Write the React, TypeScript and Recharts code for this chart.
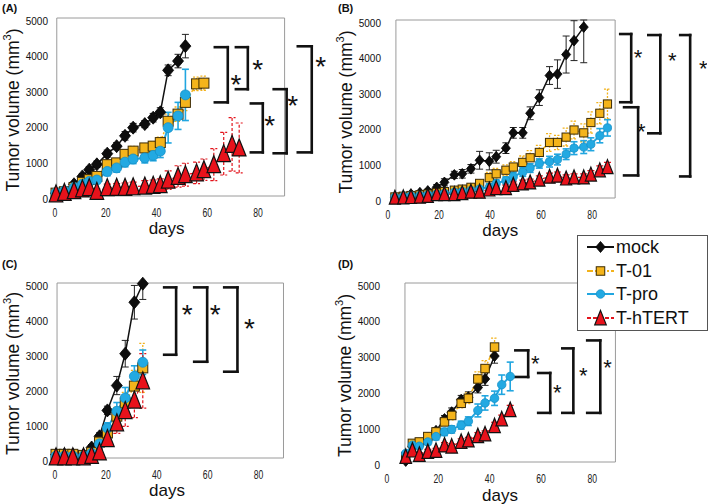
import React from 'react';
import { LineChart, Line, XAxis, YAxis, ErrorBar, ReferenceArea, ReferenceLine, ReferenceDot } from 'recharts';

const FONT = '"Liberation Sans", Arial, Helvetica, sans-serif';

const X_TICKS = [0, 20, 40, 60, 80];
const Y_TICKS = [0, 1000, 2000, 3000, 4000, 5000];
const SERIES = ['mock', 'T-01', 'T-pro', 'T-hTERT'];
const Y_TITLE = 'Tumor volume (mm';
const Y_TITLE_SUP = '3';
const X_TITLE = 'days';
const STAR = '*';
const PANEL_LABELS = ['(A)', '(B)', '(C)', '(D)'];

type Err = number | [number, number];

// ---------- Panel A ----------
const A_DAYS = [0.4, 3.7, 7.5, 10.8, 13.5, 16.5, 20.6, 24.3, 27.6, 30.8, 35.4, 38.7, 41.5, 44.6, 48.5, 51.4, 55.8, 58.7, 62.6, 66.5, 69.8, 72.6];
const A_MOCK = [80, 100, 330, 550, 740, 890, 1190, 1400, 1690, 1920, 2020, 2200, 2350, 3530, 3790, 4210];
const A_MOCK_ERR: Err[] = [20, 30, 60, 80, 80, 90, 100, 100, 120, 120, 100, 120, 130, 150, 190, 330];
const A_T01 = [80, 120, 240, 380, 460, 550, 880, 930, 1170, 1260, 1350, 1400, 1500, 2100, 2300, 2630, 3150, 3170];
const A_T01_ERR: Err[] = [30, 40, 60, 70, 80, 90, 120, 100, 120, 130, 120, 130, 150, 200, 200, 230, 190, 200];
const A_TPRO = [90, 140, 240, 330, 410, 450, 690, 790, 950, 1040, 1070, 1140, 1260, 1920, 2250, 2840];
const A_TPRO_ERR: Err[] = [30, 40, 60, 80, 90, 100, 120, 120, 130, 130, 140, 150, 180, 430, 380, 720];
const A_HTERT = [60, 100, 150, 200, 235, 130, 235, 245, 245, 260, 280, 300, 320, 445, 550, 600, 650, 740, 880, 1190, 1450, 1350];
const A_HTERT_ERR: Err[] = [40, 50, 60, 80, 80, 70, 100, 100, 120, 130, 150, 150, 160, 260, 300, 320, 300, 300, 450, 600, 750, 700];
const A_BRACKETS = [[63, 68.1, 4180, 2630], [71.3, 76, 4180, 3000], [77.2, 81.9, 2600, 1225], [86.2, 91.3, 3000, 1200], [95.7, 101.2, 4205, 1225]];
const A_STARS = [[71.3, 3333], [79.9, 3754], [84.6, 2181], [93.7, 2743], [104.7, 3839]];

// ---------- Panel B ----------
const B_DAYS = [2.7, 6.0, 9.0, 12.5, 15.6, 19.1, 22.1, 26.0, 29.1, 32.5, 35.9, 39.7, 42.4, 46.2, 49.1, 52.8, 55.7, 59.3, 63.3, 66.4, 69.8, 72.9, 76.7, 79.5, 83.0, 86.0];
const B_MOCK = [20, 50, 110, 150, 200, 300, 440, 650, 680, 820, 1060, 1030, 1160, 1400, 1830, 1830, 2380, 2820, 3440, 3480, 4030, 4420, 4800];
const B_MOCK_ERR: Err[] = [20, 30, 40, 50, 50, 80, 100, 100, 120, 120, 250, 240, 180, 150, 150, 150, 180, 220, 250, 400, 520, 560, [1000, 200]];
const B_T01 = [30, 50, 70, 90, 110, 150, 180, 220, 250, 300, 410, 570, 680, 780, 870, 1000, 1130, 1280, 1560, 1560, 1710, 1910, 1830, 2120, 2380, 2640];
const B_T01_ERR: Err[] = [20, 20, 30, 30, 40, 50, 50, 60, 70, 80, 100, 150, 150, 150, 150, 180, 200, 200, 250, 200, 250, 250, 250, 300, 300, 420];
const B_TPRO = [20, 40, 60, 70, 90, 110, 130, 160, 180, 210, 250, 300, 410, 490, 600, 730, 840, 970, 1020, 1080, 1230, 1400, 1430, 1510, 1750, 1970];
const B_TPRO_ERR: Err[] = [20, 20, 30, 30, 30, 40, 50, 50, 60, 60, 80, 100, 100, 100, 120, 120, 120, 130, 150, 150, 150, 180, 180, 180, 200, 230];
const B_HTERT = [10, 20, 30, 40, 60, 110, 110, 110, 140, 180, 180, 240, 280, 280, 370, 410, 440, 520, 600, 630, 550, 580, 580, 660, 780, 870];
const B_HTERT_ERR: Err[] = [10, 20, 20, 30, 30, 40, 40, 50, 50, 60, 60, 70, 70, 80, 80, 90, 90, 100, 100, 100, 100, 100, 100, 110, 120, 130];
const B_BRACKETS = [[91.0, 95.3, 4606, 2690], [92.5, 98.0, 2549, 634], [102.0, 106.7, 4577, 1817], [114.5, 118.4, 4577, 606]];
const B_STARS = [[98.0, 4099], [99.2, 2014], [111.4, 4014], [123.5, 3789]];

// ---------- Panel C ----------
const C_DAYS = [0.4, 3.7, 7.0, 11.2, 14.4, 17.5, 20.6, 24.3, 27.6, 31.2, 34.5];
const C_MOCK = [100, 100, 100, 90, 300, 620, 1360, 2070, 2980, 4450, 4980];
const C_MOCK_ERR: Err[] = [30, 30, 30, 40, 80, 100, 120, 260, 380, 480, [450, 20]];
const C_T01 = [105, 105, 105, 75, 155, 455, 715, 1195, 1575, 2055, 2575];
const C_T01_ERR: Err[] = [40, 40, 40, 50, 60, 100, 150, 250, 300, 450, 700];
const C_TPRO = [55, 55, 55, 55, 135, 405, 855, 1335, 1715, 2335, 2735];
const C_TPRO_ERR: Err[] = [30, 30, 30, 30, 60, 100, 150, 250, 300, 300, 350];
const C_HTERT = [35, 35, 35, 35, 75, 175, 555, 1005, 1355, 1655, 2205];
const C_HTERT_ERR: Err[] = [20, 20, 20, 20, 50, 80, 200, 300, 450, 500, 780];
const C_BRACKETS = [[42.9, 47.6, 4875, 2950], [54.7, 59.8, 4875, 2750], [66.5, 71.7, 4875, 2465]];
const C_STARS = [[52, 4295], [63, 4295], [76.4, 3895]];

// ---------- Panel D ----------
const D_DAYS = [7.3, 9.9, 12.6, 15.9, 19.1, 22.4, 25.2, 28.9, 31.7, 35.4, 38.2, 41.9, 44.7, 48.0];
const D_MOCK = [30, 440, 500, 660, 870, 1200, 1390, 1740, 1810, 2080, 2320, 2960];
const D_MOCK_ERR: Err[] = [30, 60, 60, 80, 90, 100, 120, 120, 150, 150, 180, 200];
const D_T01 = [150, 520, 560, 710, 840, 1120, 1300, 1640, 1780, 2320, 2610, 3210];
const D_T01_ERR: Err[] = [40, 60, 70, 80, 90, 100, 120, 130, 150, 200, 220, 250];
const D_TPRO = [240, 470, 440, 560, 710, 840, 910, 1030, 1140, 1440, 1650, 1780, 2160, 2390];
const D_TPRO_ERR: Err[] = [50, 70, 70, 80, 90, 100, 100, 110, 120, 180, 200, 200, 270, 400];
const D_HTERT = [150, 330, 210, 290, 320, 470, 440, 570, 610, 730, 780, 1010, 1200, 1460];
const D_HTERT_ERR: Err[] = [40, 50, 50, 60, 60, 70, 70, 80, 80, 90, 90, 100, 110, 120];
const D_BRACKETS = [[50.0, 55.0, 3118, 2375], [58.9, 63.6, 2486, 1372], [68.3, 72.6, 3174, 1372], [78.0, 83.1, 3396, 1372]];
const D_STARS = [[57.8, 2895], [66.3, 2088], [76.5, 2561], [85.9, 2784]];

// ---------- styles ----------
const STYLE = [
  { kind: 'diamond', color: '#111111', width: 1.5, dash: undefined as string | undefined, err: '#222222', errDash: undefined as string | undefined, errW: 1 },
  { kind: 'square', color: '#F2B21B', width: 1.5, dash: '6 2 2 2', err: '#F2B21B', errDash: '2 1.5', errW: 1.3 },
  { kind: 'circle', color: '#21A6E0', width: 2, dash: undefined, err: '#21A6E0', errDash: undefined, errW: 1.6 },
  { kind: 'triangle', color: '#E3141C', width: 1.2, dash: '4 2', err: '#E3141C', errDash: '3 2', errW: 1.2 },
];

function drawShape(kind: string, cx: number, cy: number, s: number, key?: string) {
  if (kind === 'diamond')
    return <polygon key={key} points={`${cx},${cy - 6.5 * s} ${cx + 5.5 * s},${cy} ${cx},${cy + 6.5 * s} ${cx - 5.5 * s},${cy}`} fill="#0d0d0d" stroke="#000" strokeWidth={0.8} />;
  if (kind === 'square')
    return <rect key={key} x={cx - 5 * s} y={cy - 5 * s} width={10 * s} height={10 * s} fill="#F4B41B" stroke="#3b2b05" strokeWidth={1} />;
  if (kind === 'circle')
    return <circle key={key} cx={cx} cy={cy} r={5 * s} fill="#22A9E2" stroke="#1790C8" strokeWidth={0.8} />;
  return <polygon key={key} points={`${cx},${cy - 9 * s} ${cx + 6.8 * s},${cy + 8 * s} ${cx - 6.8 * s},${cy + 8 * s}`} fill="#E8121B" stroke="#111" strokeWidth={1.2} />;
}

const makeDot = (kind: string, s: number) => (p: any) => {
  const key = `dot-${kind}-${p.index}`;
  if (p.cx == null || p.cy == null) return <g key={key} />;
  return drawShape(kind, p.cx, p.cy, s, key);
};

function toRows(days: number[], vals: number[], errs: Err[]) {
  return vals.map((v, i) => ({ d: days[i], v, e: errs[i] }));
}

type PanelCfg = {
  left: number; top: number; width: number; height: number;
  plotTop: number; plotBottom: number; xMax: number; frame: [number, number];
  s: number; starSize: number; daysDy: number;
  series: { days: number[]; vals: number[]; errs: Err[] }[];
  brackets: number[][]; stars: number[][];
};

const PANELS: PanelCfg[] = [
  {
    left: 0, top: 0, width: 329, height: 240, plotTop: 18, plotBottom: 196, xMax: 108, frame: [0.7, 90.5], s: 1, starSize: 28, daysDy: 38,
    series: [
      { days: A_DAYS, vals: A_MOCK, errs: A_MOCK_ERR },
      { days: A_DAYS, vals: A_T01, errs: A_T01_ERR },
      { days: A_DAYS, vals: A_TPRO, errs: A_TPRO_ERR },
      { days: A_DAYS, vals: A_HTERT, errs: A_HTERT_ERR },
    ],
    brackets: A_BRACKETS, stars: A_STARS,
  },
  {
    left: 333, top: 0, width: 374, height: 240, plotTop: 20, plotBottom: 198, xMax: 125, frame: [3.1, 89.0], s: 0.82, starSize: 22, daysDy: 38,
    series: [
      { days: B_DAYS, vals: B_MOCK, errs: B_MOCK_ERR },
      { days: B_DAYS, vals: B_T01, errs: B_T01_ERR },
      { days: B_DAYS, vals: B_TPRO, errs: B_TPRO_ERR },
      { days: B_DAYS, vals: B_HTERT, errs: B_HTERT_ERR },
    ],
    brackets: B_BRACKETS, stars: B_STARS,
  },
  {
    left: 0, top: 240, width: 284, height: 262, plotTop: 283, plotBottom: 458, xMax: 90, frame: [0.8, 89.8], s: 1, starSize: 28, daysDy: 38,
    series: [
      { days: C_DAYS, vals: C_MOCK, errs: C_MOCK_ERR },
      { days: C_DAYS, vals: C_T01, errs: C_T01_ERR },
      { days: C_DAYS, vals: C_TPRO, errs: C_TPRO_ERR },
      { days: C_DAYS, vals: C_HTERT, errs: C_HTERT_ERR },
    ],
    brackets: C_BRACKETS, stars: C_STARS,
  },
  {
    left: 332, top: 240, width: 286, height: 264, plotTop: 283, plotBottom: 462, xMax: 90, frame: [7.0, 89.0], s: 0.85, starSize: 22, daysDy: 38.5,
    series: [
      { days: D_DAYS, vals: D_MOCK, errs: D_MOCK_ERR },
      { days: D_DAYS, vals: D_T01, errs: D_T01_ERR },
      { days: D_DAYS, vals: D_TPRO, errs: D_TPRO_ERR },
      { days: D_DAYS, vals: D_HTERT, errs: D_HTERT_ERR },
    ],
    brackets: D_BRACKETS, stars: D_STARS,
  },
];

const XTick = (p: any) => (
  <g transform={`translate(${p.x},${p.y + 17})`}>
    <text transform="scale(0.72,1)" x={0} y={0} textAnchor="middle" dominantBaseline="central" fontSize={12} fontFamily={FONT} fill="#222">
      {p.payload.value}
    </text>
  </g>
);

const YTick = (p: any) => (
  <text x={p.x} y={p.y + 3} textAnchor="end" dominantBaseline="central" fontSize={10} fontFamily={FONT} fill="#111">
    {p.payload.value}
  </text>
);

const YTitle = (props: any) => {
  const vb = props.viewBox || { x: 0, y: 0, width: 0, height: 0 };
  const cx = vb.x + 12.5;
  const cy = vb.y + vb.height / 2 + 3;
  return (
    <text transform={`rotate(-90 ${cx} ${cy})`} x={cx} y={cy} textAnchor="middle" dominantBaseline="central" fontSize={17.5} fontFamily={FONT} fill="#111">
      {Y_TITLE}
      <tspan fontSize={11} dy={-6}>{Y_TITLE_SUP}</tspan>
      <tspan dy={6}>)</tspan>
    </text>
  );
};

function Panel({ cfg }: { cfg: PanelCfg }) {
  const XH = 20;
  const mt = cfg.plotTop - cfg.top;
  const mb = cfg.height - (cfg.plotBottom - cfg.top) - XH;
  const bracketSegs: { a: { x: number; y: number }; b: { x: number; y: number } }[] = [];
  cfg.brackets.forEach(([x1, x2, yt, yb]) => {
    bracketSegs.push({ a: { x: x1, y: yt }, b: { x: x2, y: yt } });
    bracketSegs.push({ a: { x: x2, y: yt }, b: { x: x2, y: yb } });
    bracketSegs.push({ a: { x: x1, y: yb }, b: { x: x2, y: yb } });
  });
  return (
    <div style={{ position: 'absolute', left: cfg.left, top: cfg.top }}>
      <LineChart width={cfg.width} height={cfg.height} margin={{ top: mt, right: 0, left: 0, bottom: mb }}>
        <XAxis type="number" dataKey="d" domain={[0, cfg.xMax]} ticks={X_TICKS} axisLine={false} tickLine={false}
          tickSize={0} tickMargin={0} height={XH} tick={(p: any) => <XTick {...p} />} interval={0} />
        <YAxis type="number" domain={[0, 5000]} ticks={Y_TICKS} width={55} axisLine={false} tickLine={false}
          tickSize={0} tickMargin={7} tick={(p: any) => <YTick {...p} />} interval={0} label={{ content: YTitle } as any} />
        <ReferenceArea x1={cfg.frame[0]} x2={cfg.frame[1]} y1={0} y2={5000} fill="none" fillOpacity={0} stroke="#9a9a9a" strokeWidth={1} />
        {cfg.series.map((sr, i) => {
          const st = STYLE[i];
          return (
            <Line key={SERIES[i]} name={SERIES[i]} data={toRows(sr.days, sr.vals, sr.errs)} dataKey="v" type="linear"
              stroke={st.color} strokeWidth={st.width} strokeDasharray={st.dash} isAnimationActive={false}
              dot={makeDot(st.kind, cfg.s)} activeDot={false}>
              <ErrorBar dataKey="e" direction="y" width={3.5} stroke={st.err} strokeWidth={st.errW} strokeDasharray={st.errDash} isAnimationActive={false} />
            </Line>
          );
        })}
        {bracketSegs.map((sg, i) => (
          <ReferenceLine key={`br-${i}`} segment={[sg.a, sg.b]} stroke="#111" strokeWidth={2.6} strokeLinecap="square" />
        ))}
        {cfg.stars.map(([x, y], i) => (
          <ReferenceDot key={`st-${i}`} x={x} y={y} r={0}
            shape={(p: any) => (
              <text x={p.cx} y={p.cy + 0.58 * cfg.starSize} textAnchor="middle" fontSize={cfg.starSize} fontFamily={FONT} fill="#111">{STAR}</text>
            )} />
        ))}
        <ReferenceDot x={44} y={0} r={0}
          shape={(p: any) => (
            <text x={p.cx} y={p.cy + cfg.daysDy} textAnchor="middle" fontSize={17} fontFamily={FONT} fill="#111">{X_TITLE}</text>
          )} />
      </LineChart>
    </div>
  );
}

const LABEL_POS = [[2, 2], [338, 2], [2, 258], [338, 258]];

function Legend() {
  return (
    <div style={{ position: 'absolute', left: 577, top: 235, width: 129, height: 94, border: '1px solid #555', background: '#fff', fontFamily: FONT }}>
      {SERIES.map((name, i) => {
        const st = STYLE[i];
        return (
          <div key={name} style={{ position: 'absolute', left: 9, top: i * 23.5, height: 22, display: 'flex', alignItems: 'center' }}>
            <svg width={27} height={22} style={{ display: 'block' }}>
              <line x1={0} y1={11} x2={27} y2={11} stroke={st.color} strokeWidth={2} strokeDasharray={st.dash} />
              {drawShape(st.kind, 13.5, 11, 0.85)}
            </svg>
            <span style={{ fontSize: 18, marginLeft: 2, color: '#111', lineHeight: '22px' }}>{name}</span>
          </div>
        );
      })}
    </div>
  );
}

export default function App() {
  return (
    <div style={{ position: 'absolute', left: 0, top: 0, width: 709, height: 504, background: '#fff', overflow: 'hidden', fontFamily: FONT }}>
      {PANELS.map((cfg, i) => <Panel key={i} cfg={cfg} />)}
      {PANEL_LABELS.map((t, i) => (
        <div key={t} style={{ position: 'absolute', left: LABEL_POS[i][0], top: LABEL_POS[i][1], fontSize: 11, fontWeight: 'bold', lineHeight: '12px', color: '#111' }}>{t}</div>
      ))}
      <Legend />
    </div>
  );
}
